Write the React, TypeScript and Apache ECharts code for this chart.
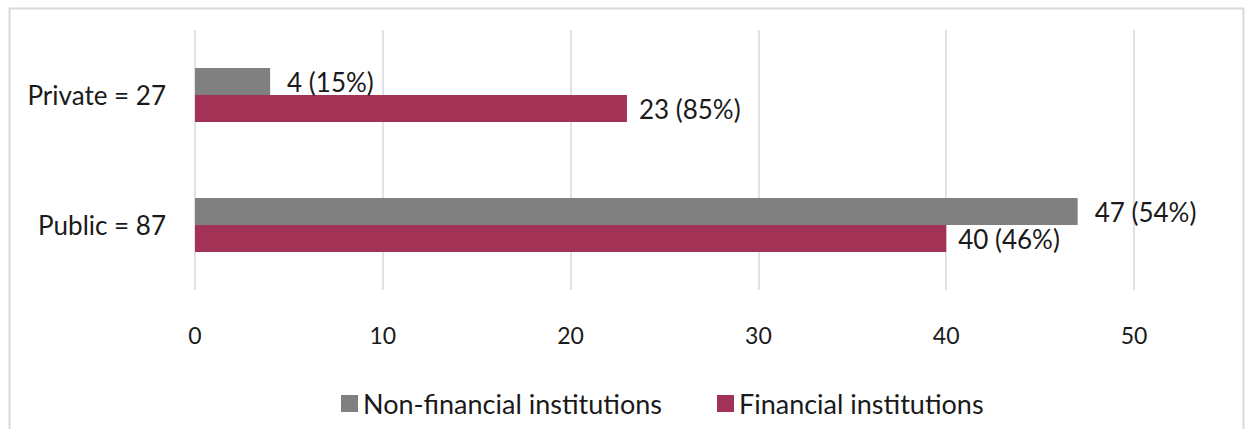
import React, { useEffect, useRef } from "react";
import * as echarts from "echarts";

const categories = ["Private = 27", "Public = 87"];
const nonFinancial = [4, 47];
const nonFinancialPct = [15, 54];
const financial = [23, 40];
const financialPct = [85, 46];
const seriesNames = ["Non-financial institutions", "Financial institutions"];
const xTicks = [0, 10, 20, 30, 40, 50];

const FONT = "Lato";

export default function App() {
  const ref = useRef<HTMLDivElement>(null);
  useEffect(() => {
    document.body.style.margin = "0";
    const chart = echarts.init(ref.current!, null, { renderer: "svg" });
    const mkData = (vals: number[], pcts: number[]) =>
      vals.map((v, i) => ({ value: v, pct: pcts[i] }));
    chart.setOption({
      animation: false,
      textStyle: { fontFamily: FONT },
      graphic: [
        {
          type: "rect",
          shape: { x: 9.5, y: 8.5, width: 1234, height: 440 },
          style: { fill: "none", stroke: "#d9d9d9", lineWidth: 2 },
          silent: true,
        },
      ],
      grid: { left: 195, right: 1248 - 1134, top: 30, bottom: 429 - 290 },
      legend: {
        data: seriesNames,
        left: 336,
        top: 385,
        itemWidth: 17,
        itemHeight: 17,
        itemGap: 55,
        icon: "rect",
        textStyle: { fontSize: 27, color: "#1a1a1a", fontFamily: FONT },
      },
      xAxis: {
        type: "value",
        min: xTicks[0],
        max: xTicks[xTicks.length - 1],
        interval: 10,
        axisLine: { show: false },
        axisTick: { show: false },
        axisLabel: { fontSize: 23, color: "#1a1a1a", margin: 33, fontFamily: FONT },
        splitLine: { lineStyle: { color: "#d9d9d9", width: 1.5 } },
      },
      yAxis: {
        type: "category",
        data: categories,
        inverse: true,
        axisLine: { show: false },
        axisTick: { show: false },
        axisLabel: { fontSize: 26, color: "#1a1a1a", margin: 29, fontFamily: FONT },
      },
      series: [
        {
          name: seriesNames[0],
          type: "bar",
          data: mkData(nonFinancial, nonFinancialPct),
          barWidth: 27,
          barGap: "0%",
          itemStyle: { color: "#808080" },
          label: {
            show: true,
            position: "right",
            distance: 17,
            fontSize: 26,
            color: "#1a1a1a",
            fontFamily: FONT,
            formatter: (p: any) => `${p.value} (${p.data.pct}%)`,
          },
        },
        {
          name: seriesNames[1],
          type: "bar",
          data: mkData(financial, financialPct),
          barWidth: 27,
          barGap: "0%",
          itemStyle: { color: "#A23357" },
          label: {
            show: true,
            position: "right",
            distance: 12,
            fontSize: 26,
            color: "#1a1a1a",
            fontFamily: FONT,
            formatter: (p: any) => `${p.value} (${p.data.pct}%)`,
          },
        },
      ],
    });
    return () => chart.dispose();
  }, []);
  return <div ref={ref} style={{ width: 1248, height: 429 }} />;
}
